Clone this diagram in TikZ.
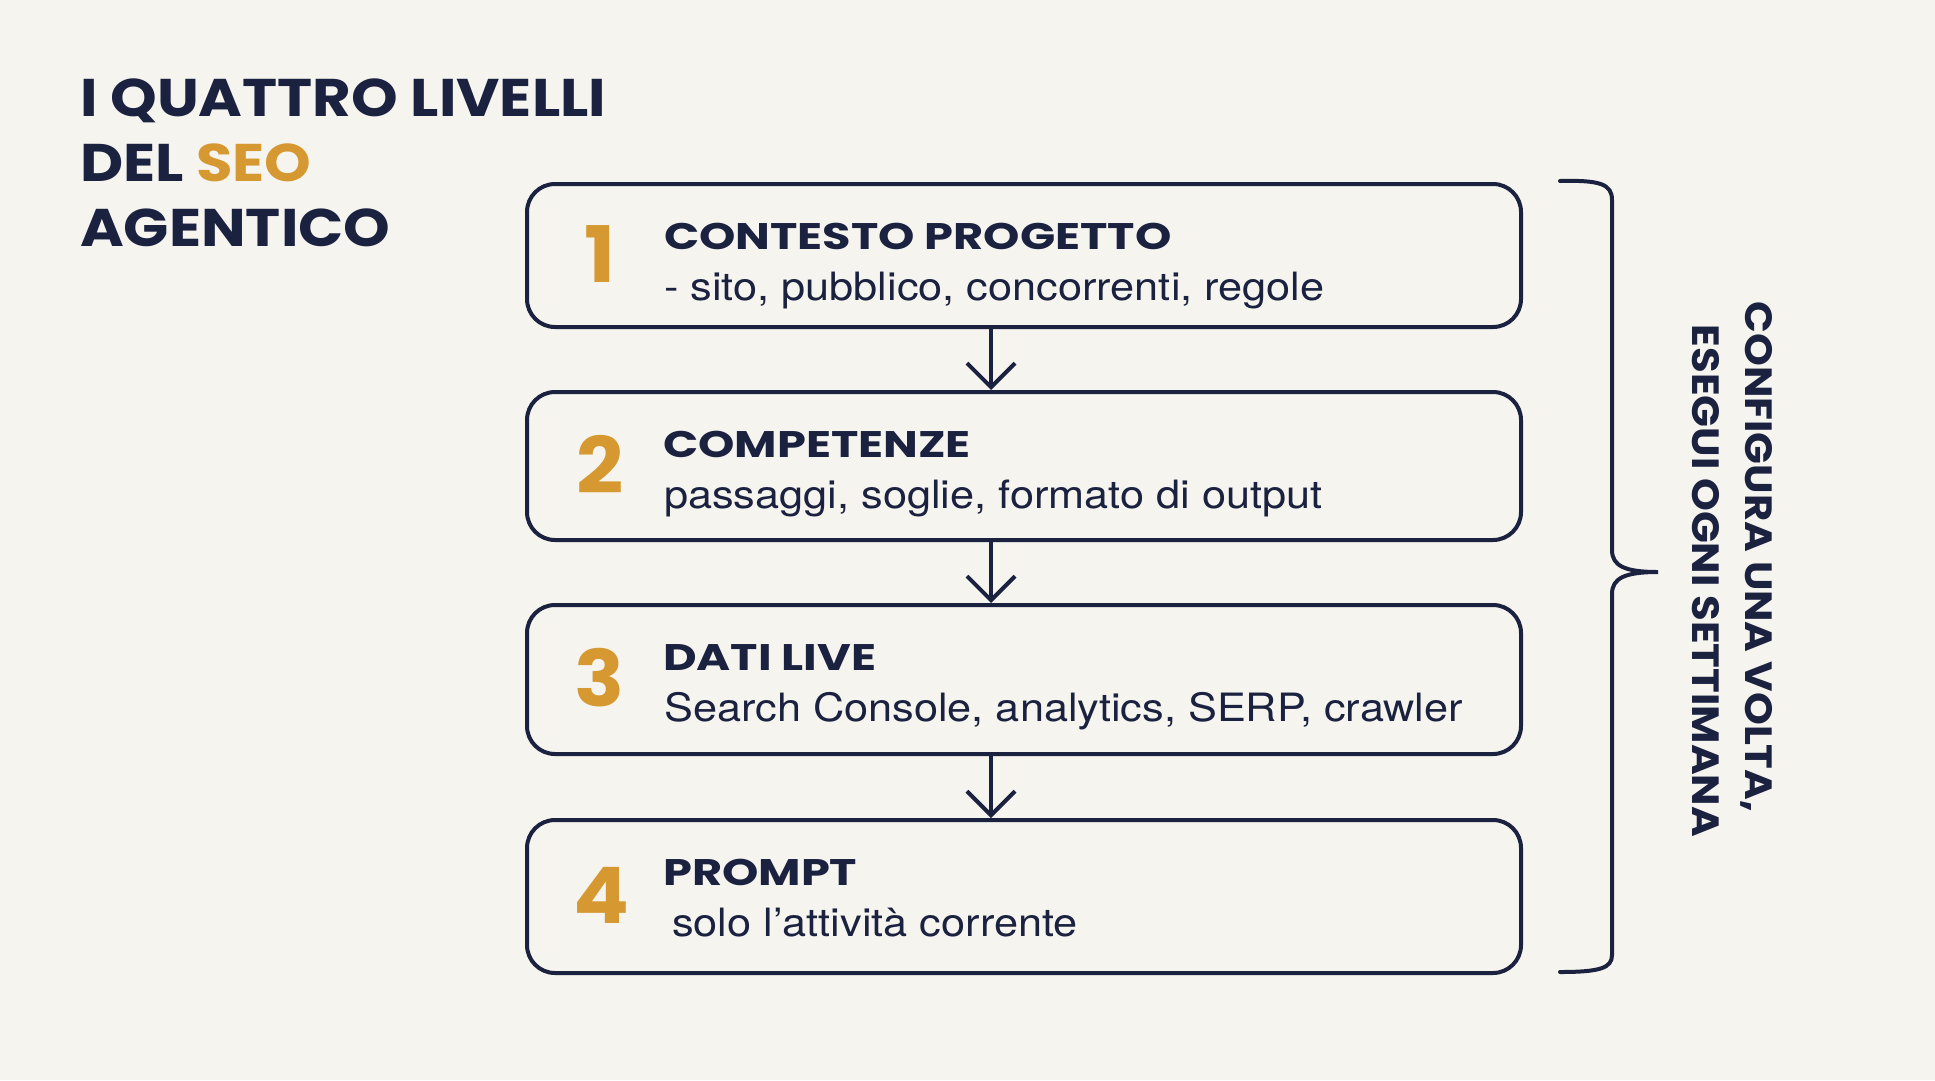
\documentclass[tikz,border=0pt]{standalone}
\usepackage{fontspec}
\usetikzlibrary{arrows.meta}
\newfontfamily\titlefont{Poppins Bold}[FakeStretch=1.12]
\newfontfamily\headfont{Poppins Bold}[FakeStretch=1.25]
\newfontfamily\sidefont{Poppins Bold}[FakeStretch=1.1]
\newfontfamily\digitfont{Poppins Bold}[FakeStretch=1.06]
\newfontfamily\sfont{TeX Gyre Heros}[FakeStretch=1.11]
\definecolor{navy}{RGB}{27,34,64}
\definecolor{gold}{RGB}{214,152,48}
\definecolor{bg}{RGB}{246,244,239}
\tikzset{
  lvlbox/.style={draw=navy, line width=4pt, rounded corners=28pt, minimum width=994pt, inner sep=0pt},
  numtxt/.style={text=gold, font=\digitfont\fontsize{78}{80}\selectfont, inner sep=0pt, anchor=base},
  headtxt/.style={text=navy, font=\headfont\fontsize{37}{40}\selectfont, inner sep=0pt, anchor=base west},
  subtxt/.style={text=navy, font=\sfont\fontsize{39}{44}\selectfont, inner sep=0pt, anchor=base west},
  titletxt/.style={text=navy, font=\titlefont\fontsize{53}{60}\selectfont, inner sep=0pt, anchor=base west},
  sidetxt/.style={text=navy, font=\sidefont\fontsize{38}{40}\selectfont, inner sep=0pt, anchor=base, rotate=-90},
  flow/.style={draw=navy, line width=4pt, -{Straight Barb[length=24pt,width=48pt]}},
}
\begin{document}
\begin{tikzpicture}[x=1pt,y=-1pt]
\fill[bg] (0,0) rectangle (1935,1080);
\useasboundingbox (0,0) rectangle (1935,1080);
% title
\node[titletxt] (t1) at (80,116) {I QUATTRO LIVELLI};
\node[titletxt] (t2) at (80,181) {DEL \textcolor{gold}{SEO}};
\node[titletxt] (t3) at (80,246) {AGENTICO};
% boxes
\node[lvlbox, minimum height=143pt] (b1) at (1024,255.5) {};
\node[lvlbox, minimum height=148pt] (b2) at (1024,466) {};
\node[lvlbox, minimum height=149pt] (b3) at (1024,679.5) {};
\node[lvlbox, minimum height=153pt] (b4) at (1024,896.5) {};
% numbers
\node[numtxt] (n1) at (600,282.5) {1};
\node[numtxt] (n2) at (600,493) {2};
\node[numtxt] (n3) at (600,706.5) {3};
\node[numtxt] (n4) at (601,923.5) {4};
% headings
\node[headtxt] (h1) at (664,249) {CONTESTO PROGETTO};
\node[headtxt] (h2) at (663,457) {COMPETENZE};
\node[headtxt] (h3) at (663,670) {DATI LIVE};
\node[headtxt] (h4) at (663,885) {PROMPT};
% sub texts
\node[subtxt] (s1) at (664,300) {- sito, pubblico, concorrenti, regole};
\node[subtxt] (s2) at (664,508) {passaggi, soglie, formato di output};
\node[subtxt] (s3) at (664,721) {Search Console, analytics, SERP, crawler};
\node[subtxt] (s4) at (672,936) {solo l’attività corrente};
% arrows
\draw[flow] ([xshift=-33pt]b1.south) -- ([xshift=-33pt]b2.north);
\draw[flow] ([xshift=-33pt]b2.south) -- ([xshift=-33pt]b3.north);
\draw[flow] ([xshift=-33pt]b3.south) -- ([xshift=-33pt]b4.north);
% brace
\draw[navy, line width=4pt, line cap=round]
  (1560,181) .. controls (1600,180) and (1612,184) .. (1612,200)
  -- (1612,550) .. controls (1612,566) and (1625,572) .. (1658,572)
  .. controls (1625,572) and (1612,578) .. (1612,594)
  -- (1612,955) .. controls (1612,968) and (1600,972) .. (1560,972);
% side text
\node[sidetxt] (r1) at (1745,557) {CONFIGURA UNA VOLTA,};
\node[sidetxt] (r2) at (1692,581) {ESEGUI OGNI SETTIMANA};
\end{tikzpicture}
\end{document}
